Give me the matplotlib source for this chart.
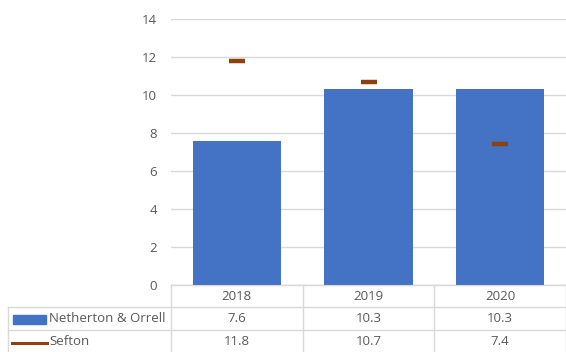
import matplotlib
matplotlib.use("Agg")
import matplotlib.pyplot as plt
from matplotlib.lines import Line2D
from matplotlib.patches import Rectangle
from matplotlib.transforms import blended_transform_factory

categories = ["2018", "2019", "2020"]
netherton = [7.6, 10.3, 10.3]
sefton = [11.8, 10.7, 7.4]
series_names = ["Netherton & Orrell", "Sefton"]
yticks = [0, 2, 4, 6, 8, 10, 12, 14]

BLUE = "#4472C4"
BROWN = "#8E400E"
GRID = "#D9D9D9"
TXT = "#595959"
plt.rcParams["font.family"] = ["Open Sans", "DejaVu Sans"]

W, H = 566, 352
fig = plt.figure(figsize=(W / 100, H / 100), dpi=100)

# overlay in pixel coords
ov = fig.add_axes([0, 0, 1, 1])
ov.set_xlim(0, W)
ov.set_ylim(H, 0)
ov.axis("off")

x0, x1, ytop, ybot = 171, 566, 19, 285
ax = fig.add_axes([x0 / W, 1 - ybot / H, (x1 - x0) / W, (ybot - ytop) / H])
xs = list(range(len(categories)))
ax.bar(xs, netherton, width=0.67, color=BLUE, zorder=2)
ax.plot(xs, sefton, linestyle="none", marker="_", markersize=11, markeredgewidth=3.2,
        color=BROWN, zorder=3)
ax.set_xlim(-0.5, len(categories) - 0.5)
ax.set_ylim(0, 14)
ax.set_yticks(yticks)
ax.yaxis.grid(True, color=GRID, linewidth=1)
ax.set_axisbelow(True)
ax.set_xticks([])
for s in ["top", "right", "left"]:
    ax.spines[s].set_visible(False)
ax.spines["bottom"].set_color(GRID)
ax.tick_params(axis="y", length=0, pad=10, labelsize=9.5, labelcolor=TXT)
ax.patch.set_alpha(0)

# table
tr = blended_transform_factory(ax.transData, ov.transData)
rows_y = [285, 307, 330, 352]
label_left = 8
for y in rows_y[1:3]:
    ov.add_line(Line2D([label_left, W], [y, y], color=GRID, lw=1))
ov.add_line(Line2D([x0, W], [rows_y[0], rows_y[0]], color=GRID, lw=1))
ov.add_line(Line2D([label_left, label_left], [rows_y[1], H], color=GRID, lw=1))
for i in range(len(categories)):
    bx = i - 0.5
    ov.add_line(Line2D([bx, bx], [rows_y[0], H], color=GRID, lw=1, transform=tr))
ov.add_line(Line2D([W - 0.5, W - 0.5], [rows_y[0], H], color=GRID, lw=1))

fs = 9.5
for i, c in enumerate(categories):
    ov.text(i, 296.5, c, transform=tr, ha="center", va="center", fontsize=fs, color=TXT)
    ov.text(i, 319, f"{netherton[i]:.1f}", transform=tr, ha="center", va="center", fontsize=fs, color=TXT)
    ov.text(i, 341.5, f"{sefton[i]:.1f}", transform=tr, ha="center", va="center", fontsize=fs, color=TXT)

ov.add_patch(Rectangle((13, 314.5), 33, 9, color=BLUE))
ov.add_line(Line2D([12, 47], [343, 343], color=BROWN, lw=2.2))
ov.text(49, 319, series_names[0], ha="left", va="center", fontsize=fs, color=TXT)
ov.text(49, 341.5, series_names[1], ha="left", va="center", fontsize=fs, color=TXT)

fig.savefig("out.png", dpi=100)
